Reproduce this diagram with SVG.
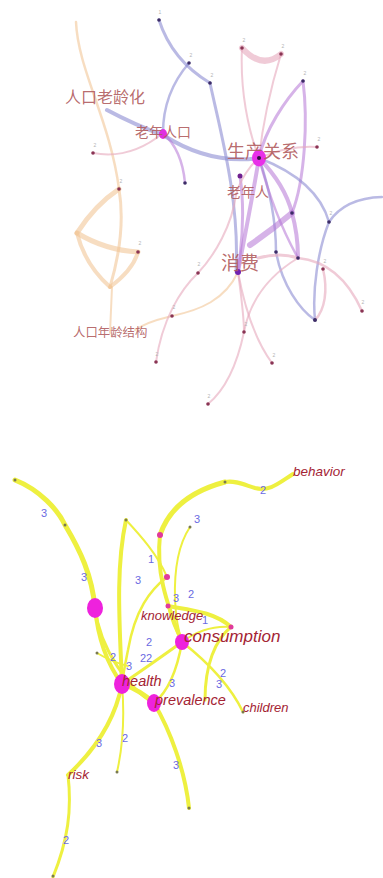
<svg xmlns="http://www.w3.org/2000/svg" width="383" height="878" viewBox="0 0 383 878">
<style>
.e{fill:none;stroke-linecap:round}
.eb{stroke:#8c8cd2;stroke-opacity:.6}
.ep{stroke:#b474d6;stroke-opacity:.55}
.ek{stroke:#e6a8bc;stroke-opacity:.6}
.eo{stroke:#f2c698;stroke-opacity:.6}
.ey{fill:none;stroke:#eef040;stroke-linecap:round}
.dot{fill:#3c2c66}
.dk{fill:#8a3454}
.cn{font-family:"Noto Sans CJK SC","Noto Sans",sans-serif;fill:#b05a5c;fill-opacity:.9}
.tiny{font-family:"Liberation Sans",sans-serif;font-size:5px;fill:#b4b4b4;text-anchor:middle}
.en{font-family:"Liberation Sans",Arial,sans-serif;font-style:italic;fill:#a42434}
.num{font-family:"Liberation Sans",Arial,sans-serif;font-size:11px;fill:#6a6ae2;text-anchor:middle}
.yd{fill:#7a7a50}
.mg{fill:#ee22dd}
.ms{fill:#e03a9c}
</style>
<rect width="383" height="878" fill="#ffffff"/>
<g id="connectors">
<path class="e eo" stroke-width="2.5" d="M76,22 C78,70 110,120 119,189"/>
<path class="e eo" stroke-width="5" d="M119,189 Q95,205 77,233"/>
<path class="e eo" stroke-width="5" d="M77,233 Q105,250 138,252"/>
<path class="e eo" stroke-width="4" d="M77,233 Q85,265 110,287"/>
<path class="e eo" stroke-width="4" d="M110,287 Q133,270 138,252"/>
<path class="e eo" stroke-width="3" d="M119,189 C125,225 118,260 110,287"/>
<path class="e eo" stroke-width="2" d="M112,287 L110,333"/>
<path class="e eo" stroke-width="2" d="M135,330 C150,320 165,318 172,316 C200,310 225,300 238,272"/>
<path class="e eb" stroke-width="3" d="M159,20 C168,48 185,68 210,83"/>
<path class="e eb" stroke-width="2.5" d="M189,63 C170,85 163,110 163,133"/>
<path class="e eb" stroke-width="4" d="M107,110 Q135,125 163,135 Q210,165 259,158"/>
<path class="e eb" stroke-width="3" d="M210,83 C220,130 240,200 236,272"/>
<path class="e ek" stroke-width="2" d="M93,153 Q130,160 163,133"/>
<path class="e ep" stroke-width="2.5" d="M163,133 Q182,150 185,183"/>
<path class="e ek" stroke-width="6" d="M242,48 Q262,70 281,54"/>
<path class="e ek" stroke-width="2" d="M242,48 C240,90 248,130 259,158"/>
<path class="e ek" stroke-width="2" d="M281,54 C270,90 262,130 259,158"/>
<path class="e ep" stroke-width="3" d="M303,81 C285,100 265,130 259,158"/>
<path class="e ep" stroke-width="3" d="M303,81 C308,120 305,180 292,213"/>
<path class="e ek" stroke-width="2" d="M259,158 Q290,145 317,147"/>
<path class="e eb" stroke-width="2.5" d="M259,158 C290,170 320,190 329,222"/>
<path class="e eb" stroke-width="2.5" d="M382,197 Q345,198 329,222"/>
<path class="e eb" stroke-width="2.5" d="M329,222 C318,250 312,290 315,320"/>
<path class="e eb" stroke-width="2.5" d="M259,158 C270,190 276,220 276,252"/>
<path class="e eb" stroke-width="2.5" d="M276,252 C282,285 300,310 315,320"/>
<path class="e ep" stroke-width="4" d="M259,158 Q285,185 292,213"/>
<path class="e ep" stroke-width="4" d="M292,213 Q298,235 298,258"/>
<path class="e ep" stroke-width="4" d="M259,158 C252,200 244,240 238,272"/>
<path class="e ep" stroke-width="3" d="M240,176 C245,210 242,245 238,272"/>
<path class="e ep" stroke-width="6" d="M250,245 Q272,230 292,213"/>
<path class="e ep" stroke-width="2.5" d="M259,158 C270,200 285,235 298,258"/>
<path class="e ek" stroke-width="3" d="M258,258 Q280,252 298,258"/>
<path class="e ek" stroke-width="2.5" d="M298,258 Q340,262 362,311"/>
<path class="e ek" stroke-width="2.5" d="M323,269 C328,290 325,310 315,320"/>
<path class="e ek" stroke-width="2" d="M298,258 C270,275 250,300 244,332"/>
<path class="e ek" stroke-width="2" d="M238,272 C241,295 244,315 244,332"/>
<path class="e ek" stroke-width="2" d="M244,332 C237,365 225,390 208,404"/>
<path class="e ek" stroke-width="2" d="M238,272 C245,310 255,340 272,363"/>
<path class="e ek" stroke-width="2" d="M198,273 C215,255 232,225 236,195 C240,180 250,165 259,158"/>
<path class="e ek" stroke-width="2" d="M198,273 C180,290 162,320 156,362"/>
<path class="ey" stroke-width="5" d="M15,480 C40,490 58,510 65,525 C80,550 92,575 95,608"/>
<path class="ey" stroke-width="4" d="M95,608 C98,640 108,665 122,684"/>
<path class="ey" stroke-width="3" d="M95,608 C100,650 130,690 154,703"/>
<path class="ey" stroke-width="4" d="M293,474 C280,482 270,492 255,488 C245,485 235,480 225,482"/>
<path class="ey" stroke-width="5" d="M225,482 C195,490 170,505 160,535"/>
<path class="ey" stroke-width="4" d="M160,535 C156,570 165,600 182,642"/>
<path class="ey" stroke-width="4" d="M126,520 C115,570 120,630 122,684"/>
<path class="ey" stroke-width="2" d="M126,520 C140,535 158,555 167,577"/>
<path class="ey" stroke-width="2.5" d="M167,577 C150,590 135,610 128,650 C125,665 123,675 122,684"/>
<path class="ey" stroke-width="2" d="M190,527 C178,545 174,570 175,600 C176,620 178,630 182,642"/>
<path class="ey" stroke-width="4" d="M168,606 C190,610 215,612 231,627"/>
<path class="ey" stroke-width="3" d="M231,627 C215,640 205,665 205,700"/>
<path class="ey" stroke-width="2.5" d="M182,642 C205,660 230,685 243,712"/>
<path class="ey" stroke-width="3" d="M182,642 Q150,665 122,684"/>
<path class="ey" stroke-width="2" d="M97,653 Q112,662 128,666"/>
<path class="ey" stroke-width="5" d="M122,684 Q140,690 154,703"/>
<path class="ey" stroke-width="4" d="M154,703 C170,730 185,770 189,808"/>
<path class="ey" stroke-width="2" d="M122,684 C125,720 122,750 117,772"/>
<path class="ey" stroke-width="4" d="M122,684 C115,720 95,750 68,775"/>
<path class="ey" stroke-width="3" d="M68,775 C72,810 68,840 53,877"/>
<path class="ey" stroke-width="2.5" d="M182,642 C178,665 170,690 154,703"/>
<path class="ey" stroke-width="2" d="M168,606 Q172,625 182,642"/>
<path class="ey" stroke-width="2" d="M182,642 Q205,625 231,627"/>
</g>
<g id="n-aging-pop"><text class="cn" x="65" y="103" font-size="16">人口老龄化</text></g>
<g id="n-elderly-pop"><ellipse cx="163" cy="134" rx="4" ry="5" fill="#e030e0"/><text class="cn" x="135" y="137" font-size="14">老年人口</text></g>
<g id="n-production"><ellipse cx="259" cy="158" rx="7" ry="8.5" fill="#e830e8"/><circle cx="259" cy="158" r="2" fill="#301040"/><text class="cn" x="227" y="158" font-size="18">生产关系</text></g>
<g id="n-elderly"><circle cx="240" cy="176" r="2.5" fill="#702090"/><text class="cn" x="227" y="197" font-size="14">老年人</text></g>
<g id="n-consume"><circle cx="238" cy="272" r="3" fill="#7020b0"/><text class="cn" x="221" y="270" font-size="19">消费</text></g>
<g id="n-age-structure"><text class="cn" x="73" y="337" font-size="12.4">人口年龄结构</text></g>
<g id="top-minor">
<circle class="dot" cx="159" cy="20" r="1.8"/><text class="tiny" x="160" y="14">1</text>
<circle class="dot" cx="189" cy="63" r="1.8"/><text class="tiny" x="191" y="57">2</text>
<circle class="dot" cx="210" cy="83" r="1.8"/><text class="tiny" x="212" y="77">2</text>
<circle class="dk" cx="242" cy="48" r="1.8"/><text class="tiny" x="244" y="42">2</text>
<circle class="dk" cx="281" cy="54" r="1.8"/><text class="tiny" x="283" y="48">2</text>
<circle class="dot" cx="303" cy="81" r="1.8"/><text class="tiny" x="305" y="75">2</text>
<circle class="dot" cx="185" cy="183" r="1.8"/>
<circle class="dk" cx="93" cy="153" r="1.8"/><text class="tiny" x="95" y="147">2</text>
<circle class="dk" cx="317" cy="147" r="1.8"/><text class="tiny" x="319" y="141">2</text>
<circle class="dot" cx="292" cy="213" r="1.8"/>
<circle class="dot" cx="329" cy="222" r="1.8"/><text class="tiny" x="331" y="215">2</text>
<circle class="dot" cx="276" cy="252" r="1.8"/>
<circle class="dot" cx="298" cy="258" r="1.8"/>
<circle class="dk" cx="323" cy="269" r="1.8"/><text class="tiny" x="325" y="263">2</text>
<circle class="dk" cx="198" cy="273" r="1.8"/><text class="tiny" x="199" y="266">2</text>
<circle class="dk" cx="138" cy="252" r="1.8"/><text class="tiny" x="140" y="245">2</text>
<circle class="dk" cx="119" cy="189" r="1.8"/><text class="tiny" x="121" y="183">2</text>
<circle class="dk" cx="172" cy="316" r="1.8"/><text class="tiny" x="174" y="309">2</text>
<circle class="dot" cx="315" cy="320" r="2"/>
<circle class="dk" cx="362" cy="311" r="1.8"/><text class="tiny" x="363" y="304">2</text>
<circle class="dk" cx="244" cy="332" r="1.8"/><text class="tiny" x="246" y="326">2</text>
<circle class="dk" cx="156" cy="362" r="1.8"/><text class="tiny" x="157" y="356">2</text>
<circle class="dk" cx="272" cy="363" r="1.8"/><text class="tiny" x="274" y="357">2</text>
<circle class="dk" cx="208" cy="404" r="1.8"/><text class="tiny" x="209" y="398">2</text>
</g>
<g id="n-behavior"><text class="en" x="293" y="476" font-size="13.5">behavior</text></g>
<g id="n-knowledge"><circle class="ms" cx="168" cy="606" r="2.5"/><text class="en" x="141" y="620" font-size="13">knowledge</text></g>
<g id="n-consumption"><ellipse class="mg" cx="182" cy="642" rx="7" ry="8"/><text class="en" x="184" y="642" font-size="17">consumption</text></g>
<g id="n-health"><ellipse class="mg" cx="122" cy="684" rx="8" ry="10"/><text class="en" x="122" y="686" font-size="14.5">health</text></g>
<g id="n-prevalence"><ellipse class="mg" cx="154" cy="703" rx="7" ry="9"/><text class="en" x="155" y="705" font-size="14.5">prevalence</text></g>
<g id="n-children"><circle class="yd" cx="243" cy="712" r="1.5"/><text class="en" x="243" y="712" font-size="13">children</text></g>
<g id="n-risk"><text class="en" x="68" y="779" font-size="13.5">risk</text></g>
<g id="n-hub"><ellipse class="mg" cx="95" cy="608" rx="8" ry="10"/></g>
<g id="bottom-minor">
<circle class="yd" cx="15" cy="480" r="1.5"/>
<circle class="yd" cx="65" cy="525" r="1.5"/>
<circle class="yd" cx="225" cy="482" r="1.5"/>
<circle class="yd" cx="126" cy="520" r="1.5"/>
<circle class="yd" cx="190" cy="527" r="1.5"/>
<circle class="ms" cx="160" cy="535" r="3"/>
<circle class="ms" cx="167" cy="577" r="3"/>
<circle class="ms" cx="231" cy="627" r="2.5"/>
<circle class="yd" cx="97" cy="653" r="1.5"/>
<circle class="yd" cx="117" cy="772" r="1.5"/>
<circle class="yd" cx="189" cy="808" r="1.5"/>
<circle class="yd" cx="53" cy="876" r="1.5"/>
</g>
<g id="edge-labels">
<text class="num" x="263" y="494">2</text>
<text class="num" x="44" y="517">3</text>
<text class="num" x="84" y="581">3</text>
<text class="num" x="197" y="523">3</text>
<text class="num" x="151" y="563">1</text>
<text class="num" x="138" y="584">3</text>
<text class="num" x="191" y="598">2</text>
<text class="num" x="176" y="602">3</text>
<text class="num" x="205" y="624" font-size="10">1</text>
<text class="num" x="149" y="646">2</text>
<text class="num" x="146" y="662">22</text>
<text class="num" x="113" y="661">2</text>
<text class="num" x="129" y="670" font-size="10">3</text>
<text class="num" x="172" y="687">3</text>
<text class="num" x="223" y="677">2</text>
<text class="num" x="219" y="688" font-size="10">3</text>
<text class="num" x="99" y="747">3</text>
<text class="num" x="125" y="742">2</text>
<text class="num" x="176" y="769">3</text>
<text class="num" x="66" y="844">2</text>
</g>
</svg>
